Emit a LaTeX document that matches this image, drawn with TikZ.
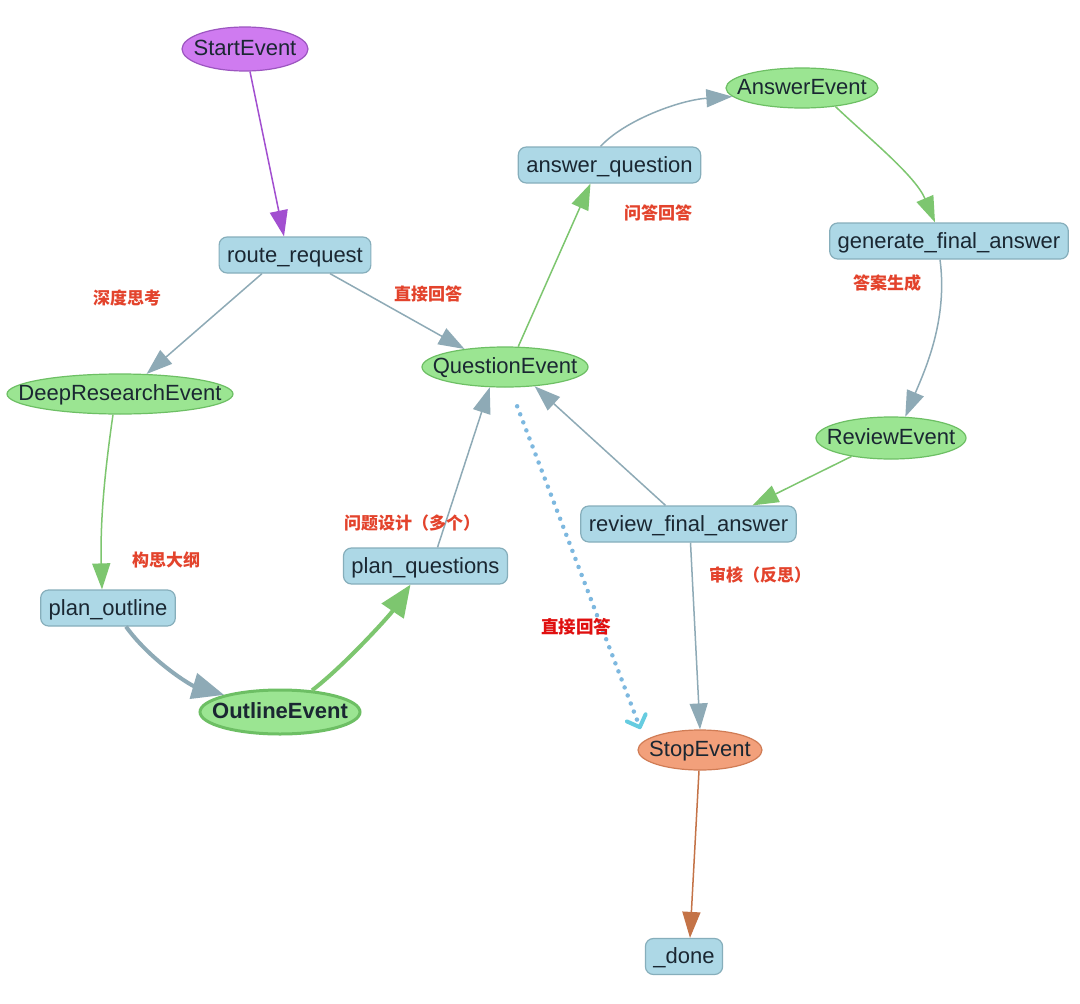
\documentclass[tikz,border=0pt]{standalone}
\usepackage{fontspec}
\setmainfont{Liberation Sans}
\newfontfamily\cjk{Noto Sans CJK SC}
\usetikzlibrary{shapes.geometric,arrows.meta}
\definecolor{txt}{HTML}{1A2732}
\definecolor{boxfill}{HTML}{ADD8E6}
\definecolor{boxborder}{HTML}{86AEBB}
\definecolor{evfill}{HTML}{9BE592}
\definecolor{evborder}{HTML}{6DBF64}
\definecolor{startfill}{HTML}{CF7BF0}
\definecolor{startborder}{HTML}{9C55C0}
\definecolor{stopfill}{HTML}{F2A07B}
\definecolor{stopborder}{HTML}{D07C55}
\definecolor{grayedge}{HTML}{8EAAB6}
\definecolor{greenedge}{HTML}{7DC66F}
\definecolor{purpleedge}{HTML}{A24FD0}
\definecolor{brownedge}{HTML}{C47347}
\definecolor{dotblue}{HTML}{7DB8DF}
\definecolor{cyanarrow}{HTML}{66CCE0}
\definecolor{labred}{HTML}{E3432C}
\definecolor{labred2}{HTML}{E01010}
\begin{document}
\begin{tikzpicture}[x=1pt,y=-1pt,
  box/.style={draw=boxborder, fill=boxfill, rounded corners=8pt, line width=1.2pt,
    minimum height=36pt, inner xsep=8pt, inner ysep=0pt, text height=17pt, text depth=3pt,
    font=\fontsize{22}{26}\selectfont, text=txt},
  evt/.style 2 args={ellipse, line width=1.2pt, minimum width=#1, minimum height=#2,
    inner sep=0pt, text height=16pt, text depth=4pt, font=\fontsize{22}{26}\selectfont, text=txt},
  greenevt/.style={draw=evborder, fill=evfill},
  lab/.style={font=\cjk\bfseries\fontsize{17}{20}\selectfont, text=labred, inner sep=0pt},
  thin edge/.style={line width=1.5pt, -{Triangle[length=26pt,width=18pt]}},
  gedge/.style={thin edge, draw=grayedge},
  gredge/.style={thin edge, draw=greenedge},
  thick edge/.style={line width=4pt, -{Triangle[length=32pt,width=26pt]}},
]
\useasboundingbox[fill=white] (0,0) rectangle (1080,1004);

% nodes
\node[evt={126pt}{44pt}, draw=startborder, fill=startfill] (start) at (245,49) {\makebox[0pt]{StartEvent}};
\node[box] (route) at (295,255) {route\_request};
\node[evt={226pt}{40pt}, greenevt] (deep) at (120,394) {\makebox[0pt]{DeepResearchEvent}};
\node[evt={166pt}{40pt}, greenevt] (qe) at (505,367) {\makebox[0pt]{QuestionEvent}};
\node[box] (aq) at (609.5,165) {answer\_question};
\node[evt={152pt}{40pt}, greenevt] (ae) at (802,88) {\makebox[0pt]{AnswerEvent}};
\node[box] (gfa) at (949,241) {generate\_final\_answer};
\node[evt={150pt}{42pt}, greenevt] (re) at (891,438) {\makebox[0pt]{ReviewEvent}};
\node[box] (rfa) at (688.5,524) {review\_final\_answer};
\node[box] (pq) at (425.5,566) {plan\_questions};
\node[box] (po) at (108,608) {plan\_outline};
\node[evt={160pt}{44pt}, greenevt, line width=3pt] (oe) at (280,712) {\makebox[0pt]{\bfseries OutlineEvent}};
\node[evt={124pt}{40pt}, draw=stopborder, fill=stopfill] (se) at (700,750) {\makebox[0pt]{StopEvent}};
\node[box] (done) at (684,956.5) {\_done};

% edges
\draw[thin edge, draw=purpleedge] ([xshift=5pt]start.south) -- ([xshift=-11pt]route.north);
\draw[gedge] ([xshift=-33pt]route.south) -- (deep.37);
\draw[gedge] ([xshift=35pt]route.south) -- (qe.156);
\draw[gredge] ([xshift=-7pt]deep.south) .. controls (105,470) and (100,520) .. ([xshift=-6pt]po.north);
\draw[thick edge, draw=grayedge] ([xshift=18pt]po.south) .. controls (150,660) and (190,685) .. (oe.163);
\draw[thick edge, draw=greenedge] (oe.34) .. controls (345,665) and (390,615) .. ([xshift=-15pt]pq.south);
\draw[gedge] ([xshift=12pt]pq.north) -- (qe.-127);
\draw[gredge] (qe.57) -- ([xshift=-19pt]aq.south);
\draw[gedge] ([xshift=-9pt]aq.north) .. controls (625,120) and (680,100) .. (ae.187);
\draw[gredge] (ae.-29) .. controls (865,135) and (915,175) .. ([xshift=-14pt]gfa.north);
\draw[gedge] ([xshift=-9pt]gfa.south) .. controls (948,320) and (925,370) .. (re.56);
\draw[gredge] (re.-155) -- ([xshift=64pt]rfa.north);
\draw[gedge] ([xshift=-23pt]rfa.north) -- (qe.-33);
\draw[gedge] ([xshift=2pt]rfa.south) -- (se.north);
\draw[draw=dotblue, line width=4.5pt, line cap=round, dash pattern=on 0pt off 8.6pt,
  shorten <=20pt, shorten >=12pt,
  -{Straight Barb[length=10pt,width=20pt,line width=4pt,color=cyanarrow,round]}]
  ([xshift=5pt]qe.south) -- (se.170);
\draw[thin edge, draw=brownedge] ([xshift=-1pt]se.south) -- ([xshift=6pt]done.north);

% labels
\node[lab] (l1) at (127,298) {深度思考};
\node[lab] (l2) at (428,294) {直接回答};
\node[lab] (l3) at (658,213) {问答回答};
\node[lab] (l4) at (887,283) {答案生成};
\node[lab] (l5) at (166,560) {构思大纲};
\node[lab] (l6) at (412,523) {问题设计（多个）};
\node[lab] (l7) at (760,575) {审核（反思）};
\node[lab, text=labred2, font=\cjk\bfseries\fontsize{17.5}{20}\selectfont] (l8) at (576,627) {直接回答};
\end{tikzpicture}
\end{document}
